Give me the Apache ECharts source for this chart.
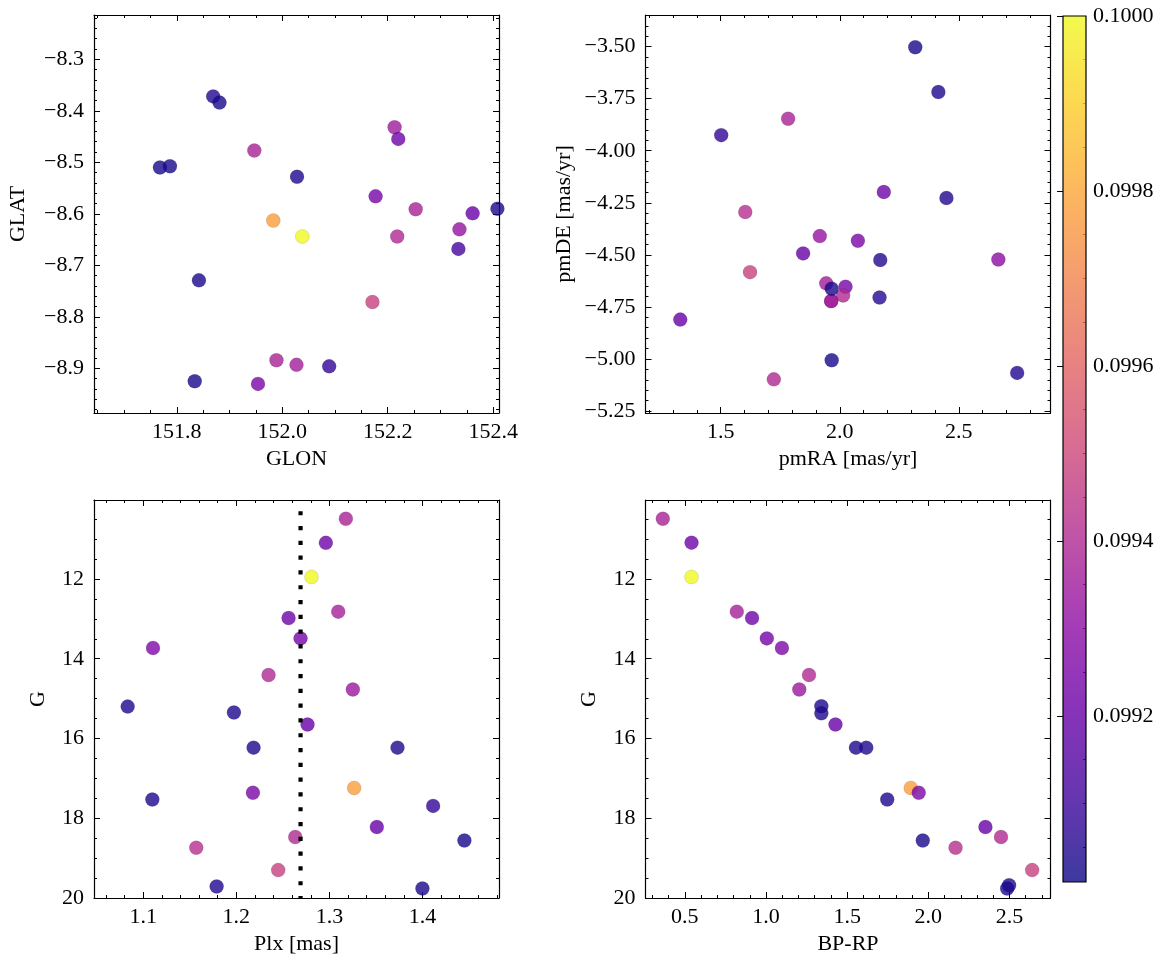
<!DOCTYPE html>
<html>
<head>
<meta charset="utf-8">
<script src="https://cdn.jsdelivr.net/npm/echarts@6/dist/echarts.min.js"></script>
<style>
html,body{margin:0;padding:0;background:#fff;}
#c{width:1166px;height:965px;}
</style>
</head>
<body>
<div id="c"></div>
<script>
// ---------------- data ----------------
// Panel 1: GLON / GLAT
const glon = [151.869,151.881,151.768,151.787,151.947,152.028,151.983,152.038,151.842,151.834,151.954,151.989,152.027,152.089,152.213,152.220,152.177,152.253,152.218,152.171,152.336,152.334,152.361,152.408];
const glat = [-8.372,-8.384,-8.510,-8.5075,-8.477,-8.528,-8.613,-8.644,-8.729,-8.925,-8.930,-8.884,-8.893,-8.896,-8.432,-8.4545,-8.566,-8.591,-8.644,-8.771,-8.630,-8.668,-8.599,-8.590];
const colGal = [0.09905,0.09903,0.09903,0.09903,0.09938,0.09904,0.09978,0.1000,0.09903,0.09903,0.09925,0.09938,0.09936,0.09908,0.09935,0.09922,0.09924,0.09938,0.0994,0.09948,0.09932,0.09912,0.0992,0.09903];

// Panel 2: pmRA / pmDE
const pmra = [2.317,2.414,1.783,1.502,2.185,2.448,1.603,1.916,2.076,1.846,2.170,2.666,1.623,1.943,2.024,2.014,1.964,1.964,1.966,2.167,1.330,1.966,2.745,1.723];
const pmde = [-3.503,-3.718,-3.846,-3.925,-4.198,-4.227,-4.294,-4.410,-4.432,-4.493,-4.525,-4.522,-4.583,-4.637,-4.653,-4.695,-4.722,-4.722,-4.663,-4.705,-4.811,-5.006,-5.067,-5.098];
const colPm = [0.09903,0.09904,0.09938,0.09908,0.09922,0.09905,0.09942,0.09932,0.09925,0.0992,0.09905,0.0993,0.09948,0.09936,0.09924,0.0994,0.09925,0.09938,0.09903,0.09906,0.0992,0.09903,0.09905,0.0994];

// Panel 3: Plx / G
const plx = [1.3177,1.2962,1.2808,1.3095,1.2561,1.269,1.1104,1.2346,1.3252,1.0832,1.1974,1.2765,1.2185,1.3732,1.3266,1.2178,1.1097,1.4115,1.351,1.2633,1.4451,1.1569,1.245,1.1788,1.400];
const gPlx = [10.49,11.094,11.95,12.82,12.98,13.49,13.73,14.41,14.77,15.20,15.35,15.65,16.23,16.23,17.24,17.36,17.53,17.69,18.22,18.47,18.56,18.74,19.30,19.71,19.76];
const colPlx = [0.09938,0.09922,0.1000,0.09937,0.09922,0.09924,0.09926,0.0994,0.09934,0.09904,0.09904,0.0992,0.09904,0.09904,0.09978,0.09925,0.09904,0.09908,0.0992,0.0994,0.09903,0.09942,0.09948,0.09905,0.09903];
const plxMean = 1.269;
const plxLineG = [10.3, 20.0];

// Panel 4: BP-RP / G
const bprp = [0.364,0.541,0.541,0.820,0.914,1.005,1.098,1.265,1.205,1.341,1.341,1.428,1.554,1.618,1.892,1.941,1.747,2.352,2.448,1.966,2.168,2.640,2.498,2.486];
const gCmd = [10.49,11.09,11.95,12.82,12.98,13.49,13.73,14.41,14.77,15.19,15.37,15.65,16.23,16.23,17.24,17.36,17.53,18.22,18.47,18.56,18.74,19.30,19.68,19.76];
const colCmd = [0.09938,0.09922,0.1000,0.09937,0.09922,0.09924,0.09926,0.0994,0.09934,0.09904,0.09904,0.0992,0.09904,0.09904,0.09978,0.09925,0.09904,0.0992,0.0994,0.09903,0.09942,0.09948,0.09905,0.09903];

// tick labels
const glonTicks = [151.8,152.0,152.2,152.4];
const glatTicks = [-8.9,-8.8,-8.7,-8.6,-8.5,-8.4,-8.3];
const pmraTicks = [1.5,2.0,2.5];
const pmdeTicks = [-5.25,-5.0,-4.75,-4.5,-4.25,-4.0,-3.75,-3.5];
const plxTicks = [1.1,1.2,1.3,1.4];
const gTicks = [12,14,16,18,20];
const bprpTicks = [0.5,1.0,1.5,2.0,2.5];
const cbTicks = [0.0992,0.0994,0.0996,0.0998,0.1000];
const cbMin = 0.09901, cbMax = 0.1000;

// plasma colormap
const plasma = ['#0d0887','#41049d','#6a00a8','#8f0da4','#b12a90','#cc4778','#e16462','#f2844b','#fca636','#fcce25','#f0f921'];

// ---------------- helpers ----------------
const FONT = 'Liberation Serif';
const FS = 22;
function minorTicks(from, to, step, majors) {
  const out = [];
  const n = Math.round((to - from) / step);
  for (let i = 0; i <= n; i++) {
    const v = +(from + i * step).toFixed(8);
    if (!majors.some(m => Math.abs(m - v) < step / 10)) out.push(v);
  }
  return out;
}
function fmt(d) { return v => (v < 0 ? '\u2212' : '') + Math.abs(v).toFixed(d); }

const grids = [
  {left: 94, top: 15, width: 405, height: 398},
  {left: 645.5, top: 15, width: 405, height: 398},
  {left: 94, top: 500, width: 405, height: 398},
  {left: 645.5, top: 500, width: 405, height: 398},
  {left: 1063, top: 16, width: 23, height: 866}
];

const panels = [
  { x: {min:151.643, max:152.411, major:glonTicks, minor:minorTicks(151.65,152.40,0.05,glonTicks), dec:1, name:'GLON', gap:35},
    y: {min:-8.9865, max:-8.214, major:glatTicks, minor:minorTicks(-8.98,-8.22,0.02,glatTicks), dec:1, name:'GLAT', gap:65},
    xs: glon, ys: glat, cs: colGal },
  { x: {min:1.184, max:2.885, major:pmraTicks, minor:minorTicks(1.2,2.8,0.1,pmraTicks), dec:1, name:'pmRA [mas/yr]', gap:35},
    y: {min:-5.2596, max:-3.348, major:pmdeTicks, minor:minorTicks(-5.25,-3.35,0.05,pmdeTicks), dec:2, name:'pmDE [mas/yr]', gap:70},
    xs: pmra, ys: pmde, cs: colPm },
  { x: {min:1.047, max:1.4823, major:plxTicks, minor:minorTicks(1.06,1.48,0.02,plxTicks), dec:1, name:'Plx [mas]', gap:35},
    y: {min:10.02, max:20, inverse:true, major:gTicks, minor:minorTicks(10.5,19.5,0.5,gTicks), dec:0, name:'G', gap:45},
    xs: plx, ys: gPlx, cs: colPlx },
  { x: {min:0.2574, max:2.753, major:bprpTicks, minor:minorTicks(0.3,2.7,0.1,bprpTicks), dec:1, name:'BP-RP', gap:35},
    y: {min:10.02, max:20, inverse:true, major:gTicks, minor:minorTicks(10.5,19.5,0.5,gTicks), dec:0, name:'G', gap:45},
    xs: bprp, ys: gCmd, cs: colCmd }
];

const xAxes = [], yAxes = [], series = [];
const tickLine = {color:'#000', width:1};

function axisSet(gi, a, posMain, posOther, isY) {
  const common = {gridIndex: gi, type: 'value', min: a.min, max: a.max, inverse: !!a.inverse,
    splitLine: {show: false}, splitArea: {show: false}};
  const line = {show: true, onZero: false, lineStyle: {color: '#000', width: 1.2}};
  return [
    Object.assign({}, common, {position: posMain, axisLine: line,
      axisTick: {show: true, inside: true, length: 6, lineStyle: tickLine, customValues: a.major},
      axisLabel: {show: true, customValues: a.major, formatter: fmt(a.dec), color: '#000', fontFamily: FONT, fontSize: FS, margin: isY ? 10 : 8},
      name: a.name, nameLocation: 'middle', nameGap: a.gap,
      nameTextStyle: {color: '#000', fontFamily: FONT, fontSize: FS}}),
    Object.assign({}, common, {position: posOther, axisLine: line,
      axisTick: {show: true, inside: true, length: 6, lineStyle: tickLine, customValues: a.major},
      axisLabel: {show: false}}),
    Object.assign({}, common, {position: posMain, axisLine: {show: false, onZero: false},
      axisTick: {show: true, inside: true, length: 3, lineStyle: tickLine, customValues: a.minor},
      axisLabel: {show: false}}),
    Object.assign({}, common, {position: posOther, axisLine: {show: false, onZero: false},
      axisTick: {show: true, inside: true, length: 3, lineStyle: tickLine, customValues: a.minor},
      axisLabel: {show: false}})
  ];
}

const mainIdx = [];
panels.forEach((p, gi) => {
  const xi = xAxes.length, yi = yAxes.length;
  xAxes.push(...axisSet(gi, p.x, 'bottom', 'top', false));
  yAxes.push(...axisSet(gi, p.y, 'left', 'right', true));
  mainIdx.push([xi, yi]);
  series.push({
    type: 'scatter', xAxisIndex: xi, yAxisIndex: yi,
    data: p.xs.map((v, i) => [v, p.ys[i], p.cs[i]]),
    symbol: 'circle', symbolSize: 14, clip: true,
    itemStyle: {opacity: 0.8, borderColor: 'rgba(0,0,0,0.25)', borderWidth: 0.5},
    emphasis: {disabled: true}, z: 3
  });
});

// dotted mean-parallax line on panel 3
series.push({
  type: 'line', xAxisIndex: mainIdx[2][0], yAxisIndex: mainIdx[2][1],
  data: [[plxMean, plxLineG[0]], [plxMean, plxLineG[1]]],
  symbol: 'none', silent: true, z: 6,
  lineStyle: {color: '#000', width: 4.2, type: [4.2, 10.6], cap: 'butt'}
});

// colorbar
const cbX = xAxes.length, cbY = yAxes.length;
xAxes.push({gridIndex: 4, type: 'value', min: 0, max: 1, show: false});
yAxes.push({gridIndex: 4, type: 'value', min: cbMin, max: cbMax, position: 'right',
  splitLine: {show: false},
  axisLine: {show: false},
  axisTick: {show: true, inside: true, length: 6, lineStyle: tickLine, customValues: cbTicks},
  axisLabel: {show: true, customValues: cbTicks, formatter: fmt(4), color: '#000', fontFamily: FONT, fontSize: FS, margin: 7}});
yAxes.push({gridIndex: 4, type: 'value', min: cbMin, max: cbMax, position: 'right',
  splitLine: {show: false}, axisLine: {show: false},
  axisTick: {show: true, inside: true, length: 3, lineStyle: tickLine, customValues: minorTicks(0.09905, 0.09995, 0.00005, cbTicks)},
  axisLabel: {show: false}});

const cbStops = plasma.slice().reverse().map((c, i, arr) => ({offset: i / (arr.length - 1), color: c}));
series.push({
  type: 'custom', xAxisIndex: cbX, yAxisIndex: cbY, silent: true, z: 1,
  data: [[0, cbMin, 1, cbMax]],
  encode: {x: [0, 2], y: [1, 3]},
  renderItem: function (params, api) {
    const p0 = api.coord([api.value(0), api.value(3)]);
    const p1 = api.coord([api.value(2), api.value(1)]);
    const shape = {x: p0[0], y: p0[1], width: p1[0] - p0[0], height: p1[1] - p0[1]};
    return {type: 'group', children: [
      {type: 'rect', shape: shape, style: {fill: new echarts.graphic.LinearGradient(0, 0, 0, 1, cbStops), opacity: 0.8}},
      {type: 'rect', shape: shape, style: {fill: null, stroke: '#000', lineWidth: 1.2}}
    ]};
  }
});

const chart = echarts.init(document.getElementById('c'), null, {renderer: 'canvas'});
chart.setOption({
  animation: false,
  backgroundColor: '#fff',
  grid: grids,
  xAxis: xAxes,
  yAxis: yAxes,
  visualMap: {
    type: 'continuous', show: false, dimension: 2, min: cbMin, max: cbMax,
    seriesIndex: [0, 1, 2, 3],
    inRange: {color: plasma}
  },
  series: series
});
</script>
</body>
</html>
